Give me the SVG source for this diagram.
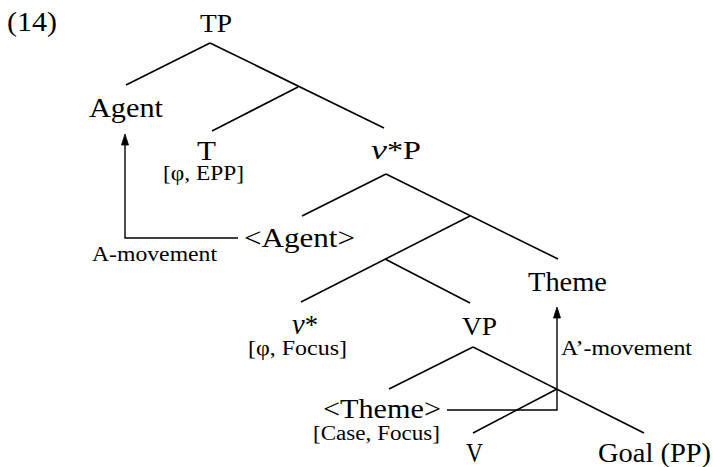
<svg xmlns="http://www.w3.org/2000/svg" width="713" height="467" viewBox="0 0 713 467">
<style>
text{font-family:"Liberation Serif","Times New Roman",serif;fill:#000}
.big{font-size:27px}
.xp{font-size:25px}
.sm{font-size:20px}
.it{font-style:italic}
.edge{stroke:#000;stroke-width:1.6;fill:none}
.mv{stroke:#000;stroke-width:1.4;fill:none}
.head{fill:#000;stroke:#000;stroke-width:0.8}
</style>
<rect width="713" height="467" fill="#fff"/>
<text class="big" x="7" y="31" textLength="50" lengthAdjust="spacingAndGlyphs">(14)</text>
<g id="connectors">
<line class="edge" x1="210" y1="43" x2="126" y2="85"/>
<line class="edge" x1="210" y1="43" x2="384" y2="128"/>
<line class="edge" x1="298" y1="87" x2="212" y2="131"/>
<line class="edge" x1="386" y1="174" x2="302" y2="216"/>
<line class="edge" x1="386" y1="174" x2="558" y2="259"/>
<line class="edge" x1="470" y1="216" x2="301" y2="302"/>
<line class="edge" x1="385" y1="259" x2="470" y2="303"/>
<line class="edge" x1="473" y1="347" x2="389" y2="389"/>
<line class="edge" x1="473" y1="347" x2="644" y2="433"/>
<line class="edge" x1="557" y1="389" x2="473" y2="433"/>
<g id="a-movement">
<polyline class="mv" points="238,238 125,238 125,144"/>
<polygon class="head" points="125,134 121.5,145 128.5,145"/>
</g>
<g id="abar-movement">
<polyline class="mv" points="447,410 557,410 557,318"/>
<polygon class="head" points="557,307 553.5,318 560.5,318"/>
</g>
</g>
<g id="TP"><text class="xp" x="200" y="32" textLength="32" lengthAdjust="spacingAndGlyphs">TP</text></g>
<g id="Agent"><text class="big" x="89" y="117" textLength="74" lengthAdjust="spacingAndGlyphs">Agent</text></g>
<g id="T">
<text class="big" x="197" y="160" textLength="19" lengthAdjust="spacingAndGlyphs">T</text>
<text class="sm" x="163" y="180" textLength="81" lengthAdjust="spacingAndGlyphs">[φ, EPP]</text>
</g>
<g id="vP"><text class="xp" x="371" y="159" textLength="50" lengthAdjust="spacingAndGlyphs"><tspan class="it" font-size="28">v</tspan>*P</text></g>
<g id="AgentCopy"><text class="big" x="244" y="247" textLength="111" lengthAdjust="spacingAndGlyphs">&lt;Agent&gt;</text></g>
<g id="AMovementLabel"><text class="sm" x="92" y="261" textLength="125" lengthAdjust="spacingAndGlyphs">A-movement</text></g>
<g id="Theme"><text class="big" x="528" y="291" textLength="79" lengthAdjust="spacingAndGlyphs">Theme</text></g>
<g id="v">
<text class="big" x="292" y="334" textLength="26" lengthAdjust="spacingAndGlyphs"><tspan class="it" font-size="29">v</tspan>*</text>
<text class="sm" x="248" y="355" textLength="99" lengthAdjust="spacingAndGlyphs">[φ, Focus]</text>
</g>
<g id="VP"><text class="xp" x="462" y="335" textLength="35" lengthAdjust="spacingAndGlyphs">VP</text></g>
<g id="AbarMovementLabel"><text class="sm" x="561" y="355" textLength="131" lengthAdjust="spacingAndGlyphs">A’-movement</text></g>
<g id="ThemeCopy">
<text class="big" x="323" y="418" textLength="118" lengthAdjust="spacingAndGlyphs">&lt;Theme&gt;</text>
<text class="sm" x="313" y="440" textLength="127" lengthAdjust="spacingAndGlyphs">[Case, Focus]</text>
</g>
<g id="V"><text class="big" x="466" y="462" textLength="17" lengthAdjust="spacingAndGlyphs">V</text></g>
<g id="Goal"><text class="big" x="598" y="462" textLength="113" lengthAdjust="spacingAndGlyphs">Goal (PP)</text></g>
</svg>
